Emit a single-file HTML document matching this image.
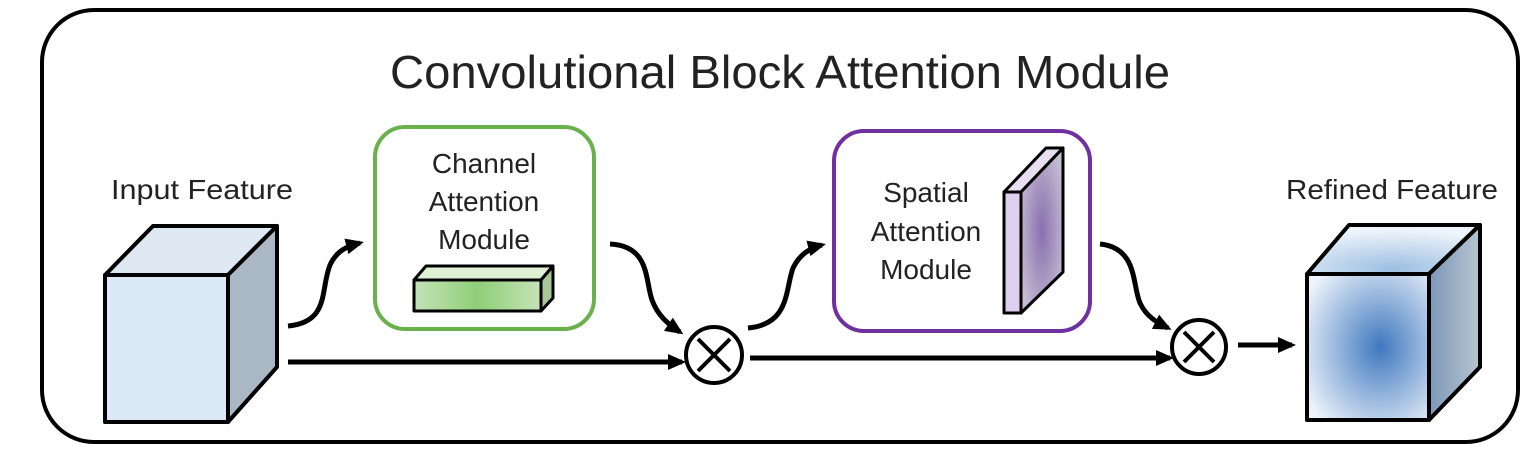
<!DOCTYPE html>
<html><head><meta charset="utf-8"><style>
html,body{margin:0;padding:0;background:#fff;}
svg{display:block;}
text{font-family:"Liberation Sans",sans-serif;fill:#222;}
</style></head><body>
<svg width="1528" height="456" viewBox="0 0 1528 456" xmlns="http://www.w3.org/2000/svg">
<defs>
<marker id="ah" markerWidth="18" markerHeight="18" refX="14" refY="9" orient="auto" markerUnits="userSpaceOnUse">
<path d="M0,1 L18,9 L0,17 z" fill="#000"/></marker>
<radialGradient id="rf" cx="0.6" cy="0.5" r="0.7"><stop offset="0" stop-color="#3f78bf"/><stop offset="1" stop-color="#eef4fb"/></radialGradient>
<radialGradient id="rt" cx="0.5" cy="0.9" r="0.8"><stop offset="0" stop-color="#9cbfe2"/><stop offset="1" stop-color="#eef4fb"/></radialGradient>
<linearGradient id="rs" x1="0" x2="1"><stop offset="0" stop-color="#7c98b8"/><stop offset="1" stop-color="#b8c4d0"/></linearGradient>
<linearGradient id="gb" x1="0" x2="1"><stop offset="0" stop-color="#c5e3b8"/><stop offset="0.5" stop-color="#8fce78"/><stop offset="1" stop-color="#c5e3b8"/></linearGradient>
<radialGradient id="pp" cx="0.5" cy="0.5" r="0.6"><stop offset="0" stop-color="#8a6fae"/><stop offset="1" stop-color="#c7bfd3"/></radialGradient>
</defs>
<rect x="42" y="10" width="1476" height="432" rx="52" fill="#fff" stroke="#000" stroke-width="4"/>
<text x="780" y="88" font-size="46" text-anchor="middle" textLength="780" lengthAdjust="spacingAndGlyphs">Convolutional Block Attention Module</text>
<text x="202" y="199" font-size="28" text-anchor="middle" textLength="182" lengthAdjust="spacingAndGlyphs">Input Feature</text>
<text x="1392" y="199" font-size="28" text-anchor="middle" textLength="212" lengthAdjust="spacingAndGlyphs">Refined Feature</text>
<!-- input cube -->
<g stroke="#000" stroke-width="4" stroke-linejoin="round">
<polygon points="105,275 153,226 277,226 228,275" fill="#dde8f3"/>
<polygon points="228,275 277,226 277,367 228,422" fill="#aab8c6"/>
<rect x="105" y="275" width="123" height="147" fill="#dce9f6"/>
</g>
<!-- channel box -->
<rect x="375" y="127" width="219" height="202" rx="30" fill="#fff" stroke="#6ab04c" stroke-width="4"/>
<text x="484" y="173" font-size="28" text-anchor="middle">Channel</text>
<text x="484" y="211" font-size="28" text-anchor="middle">Attention</text>
<text x="484" y="249" font-size="28" text-anchor="middle">Module</text>
<g stroke="#000" stroke-width="3" stroke-linejoin="round">
<polygon points="414,280 426,266 553,266 541,280" fill="#dff0d5"/>
<polygon points="541,280 553,266 553,298 541,311" fill="#a8c89a"/>
<rect x="414" y="280" width="127" height="31" fill="url(#gb)"/>
</g>
<!-- spatial box -->
<rect x="834" y="131" width="256" height="200" rx="30" fill="#fff" stroke="#7030a0" stroke-width="4"/>
<text x="926" y="202" font-size="28" text-anchor="middle">Spatial</text>
<text x="926" y="241" font-size="28" text-anchor="middle">Attention</text>
<text x="926" y="279" font-size="28" text-anchor="middle">Module</text>
<g stroke="#000" stroke-width="3" stroke-linejoin="round">
<polygon points="1004,192 1046,148 1063,148 1021,192" fill="#e8def2"/>
<polygon points="1021,192 1063,148 1063,272 1021,313" fill="url(#pp)"/>
<rect x="1004" y="192" width="17" height="121" fill="#ddd0ee"/>
</g>
<!-- refined cube -->
<g stroke="#000" stroke-width="4" stroke-linejoin="round">
<polygon points="1307,274 1349,225 1480,225 1429,274" fill="url(#rt)"/>
<polygon points="1429,274 1480,225 1480,367 1429,420" fill="url(#rs)"/>
<rect x="1307" y="274" width="122" height="146" fill="url(#rf)"/>
</g>
<!-- connectors -->
<g fill="none" stroke="#000" stroke-width="5">
<path d="M288,326 C330,322 320,290 330,265 C337,250 348,246 360,243" marker-end="url(#ah)"/>
<line x1="288" y1="362" x2="682" y2="362" marker-end="url(#ah)"/>
<path d="M610,244 C650,246 645,280 652,300 C658,316 668,324 680,332" marker-end="url(#ah)"/>
<path d="M748,328 C790,324 785,290 793,268 C800,254 810,248 822,245" marker-end="url(#ah)"/>
<line x1="750" y1="358" x2="1170" y2="358" marker-end="url(#ah)"/>
<path d="M1100,244 C1138,248 1132,285 1140,303 C1146,316 1156,322 1168,328" marker-end="url(#ah)"/>
<line x1="1238" y1="345" x2="1292" y2="345" marker-end="url(#ah)"/>
</g>
<g stroke="#000" stroke-width="4" fill="#fff">
<circle cx="714" cy="355" r="28"/>
<line x1="698" y1="339" x2="730" y2="371"/><line x1="730" y1="339" x2="698" y2="371"/>
<circle cx="1199" cy="347" r="27"/>
<line x1="1184" y1="332" x2="1214" y2="362"/><line x1="1214" y1="332" x2="1184" y2="362"/>
</g>
</svg>
</body></html>
